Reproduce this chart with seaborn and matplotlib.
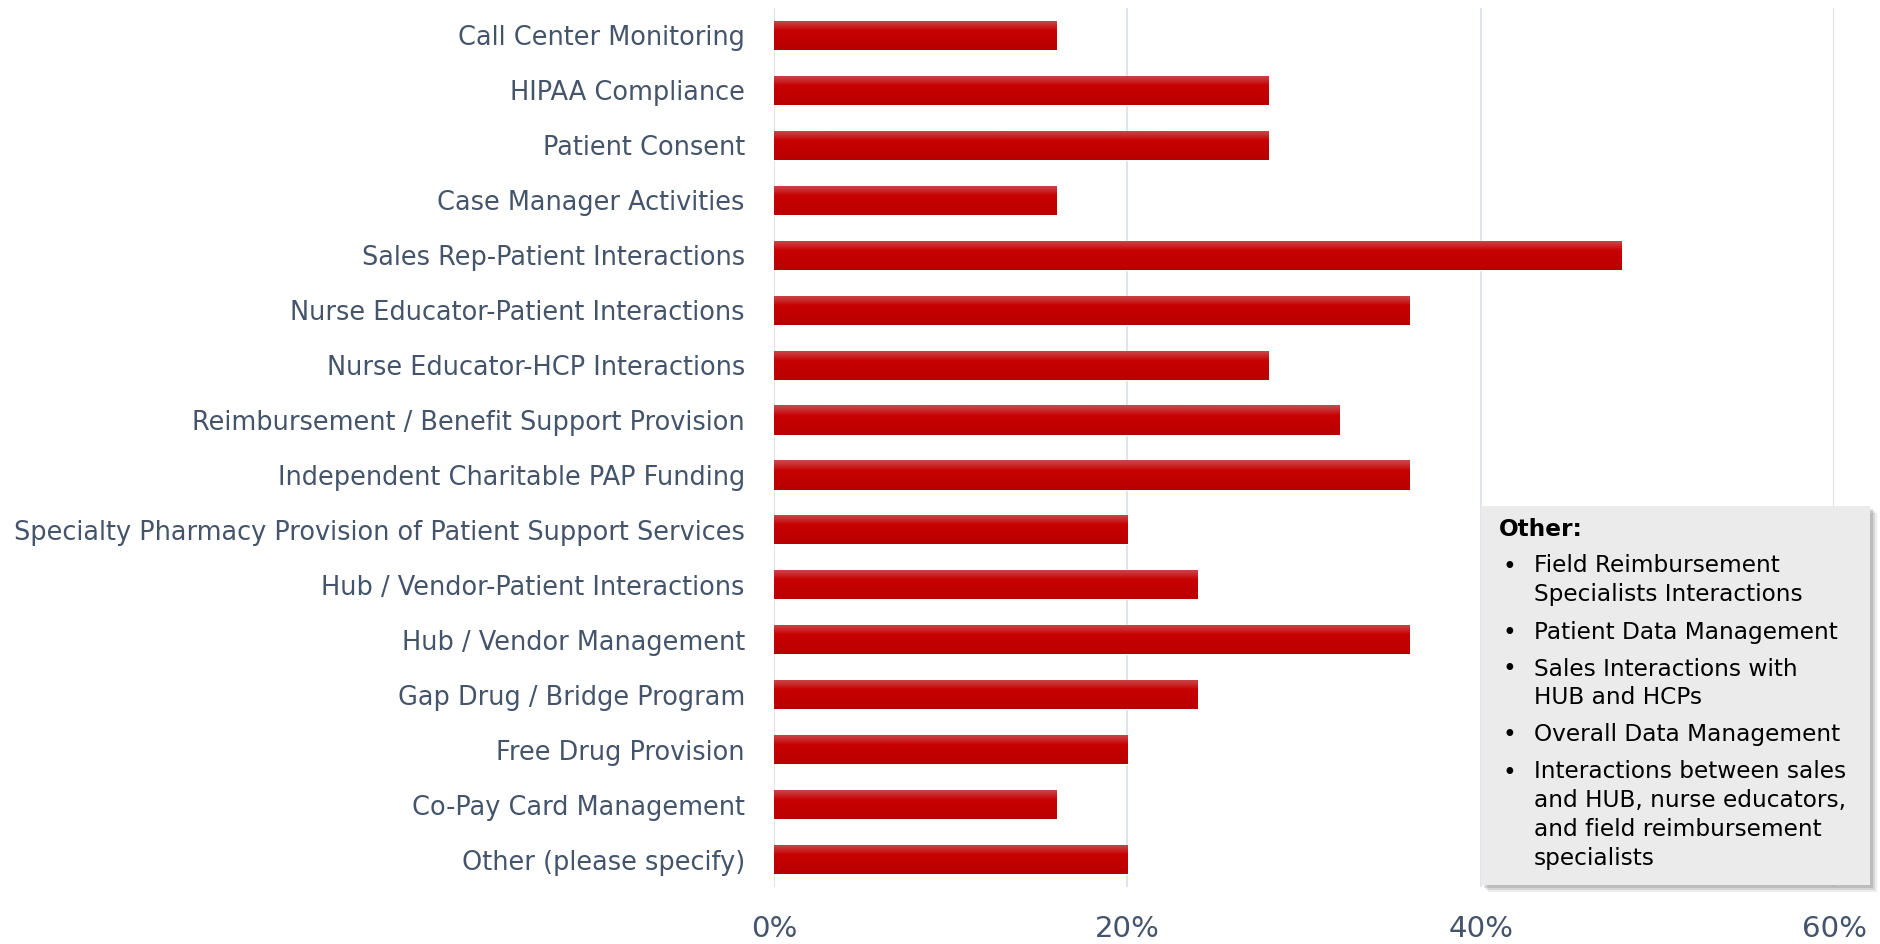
import matplotlib
matplotlib.use("Agg")
import matplotlib.pyplot as plt
import seaborn as sns
import numpy as np
import pandas as pd
from matplotlib import font_manager
from matplotlib.patches import Rectangle
from matplotlib.colors import LinearSegmentedColormap
from matplotlib.ticker import PercentFormatter

# ---------------- data ----------------
categories = [
    "Call Center Monitoring",
    "HIPAA Compliance",
    "Patient Consent",
    "Case Manager Activities",
    "Sales Rep-Patient Interactions",
    "Nurse Educator-Patient Interactions",
    "Nurse Educator-HCP Interactions",
    "Reimbursement / Benefit Support Provision",
    "Independent Charitable PAP Funding",
    "Specialty Pharmacy Provision of Patient Support Services",
    "Hub / Vendor-Patient Interactions",
    "Hub / Vendor Management",
    "Gap Drug / Bridge Program",
    "Free Drug Provision",
    "Co-Pay Card Management",
    "Other (please specify)",
]
values = [16, 28, 28, 16, 48, 36, 28, 32, 36, 20, 24, 36, 24, 20, 16, 20]
x_ticks = [0, 20, 40, 60]
box_title = "Other:"
box_items = [
    ["Field Reimbursement", "Specialists Interactions"],
    ["Patient Data Management"],
    ["Sales Interactions with", "HUB and HCPs"],
    ["Overall Data Management"],
    ["Interactions between sales", "and HUB, nurse educators,", "and field reimbursement", "specialists"],
]

# ---------------- style ----------------
sns.set_theme(style="white")
names = {f.name for f in font_manager.fontManager.ttflist}
family = "DejaVu Sans Condensed" if "DejaVu Sans Condensed" in names else "DejaVu Sans"
plt.rcParams["font.family"] = [family, "DejaVu Sans"]

TEXT = "#44546A"
W, H = 1880, 944
fig = plt.figure(figsize=(W / 100, H / 100), dpi=100)
renderer = fig.canvas.get_renderer()


def fit_size(s, target_px, weight="normal"):
    t = fig.text(0, 0, s, fontsize=20, fontweight=weight)
    w = t.get_window_extent(renderer=renderer).width
    t.remove()
    return 20 * target_px / w


ylab_size = fit_size("Specialty Pharmacy Provision of Patient Support Services", 733)
xlab_size = fit_size("20%", 65)
box_size = fit_size("Patient Data Management", 305)
title_size = fit_size("Other:", 84, "bold")

ax_left, ax_right, ax_top, ax_bottom = 774, 1834, 8, 887
ax = fig.add_axes([ax_left / W, 1 - ax_bottom / H, (ax_right - ax_left) / W, (ax_bottom - ax_top) / H])

df = pd.DataFrame({"category": categories, "value": values})
sns.barplot(data=df, x="value", y="category", orient="h", color="#C00000",
            saturation=1, width=0.53, ax=ax, zorder=3)

# gradient fill for bars
cmap = LinearSegmentedColormap.from_list(
    "bar", [(0.0, "#C9474C"), (0.12, "#C93437"), (0.35, "#C80000"), (1.0, "#B90000")])
grad = np.linspace(0, 1, 64).reshape(-1, 1)
for p in list(ax.patches):
    x0, y0, w, h = p.get_x(), p.get_y(), p.get_width(), p.get_height()
    im = ax.imshow(grad, extent=(x0, x0 + w, y0 + h, y0), origin="upper",
                   aspect="auto", cmap=cmap, zorder=4, interpolation="bilinear")
    im.set_clip_path(p)

ax.set_xlim(0, 60)
ax.set_ylim(len(categories) - 0.5, -0.5)
ax.set_aspect("auto")
ax.set_xticks(x_ticks)
ax.xaxis.set_major_formatter(PercentFormatter(decimals=0))
ax.grid(axis="x", color="#DDE2E8", linewidth=1.3, zorder=0)
ax.grid(axis="y", visible=False)
for s in ax.spines.values():
    s.set_visible(False)
ax.set_xlabel("")
ax.set_ylabel("")
ax.tick_params(axis="y", length=0, pad=21, labelsize=ylab_size, labelcolor=TEXT)
ax.tick_params(axis="x", length=0, pad=20, labelsize=xlab_size, labelcolor=TEXT)

# ---------------- annotation box ----------------
bx0, by0, bx1, by1 = 1481, 506, 1870, 885
for off, alpha in [(7, 0.10), (5, 0.15), (3, 0.2)]:
    fig.patches.append(Rectangle(((bx0 + off) / W, 1 - (by1 + off) / H), (bx1 - bx0) / W,
                                 (by1 - by0) / H, transform=fig.transFigure,
                                 facecolor="#555555", alpha=alpha, edgecolor="none", zorder=5))
fig.patches.append(Rectangle((bx0 / W, 1 - by1 / H), (bx1 - bx0) / W, (by1 - by0) / H,
                             transform=fig.transFigure, facecolor="#EBEBEB",
                             edgecolor="none", zorder=6))

fig.text(1499 / W, 1 - 529 / H, box_title, fontsize=title_size, fontweight="bold",
         color="black", va="center", ha="left", zorder=7)
y = 566
line_step, para_gap = 29, 8
for item in box_items:
    fig.text(1502 / W, 1 - y / H, "•", fontsize=box_size, color="black",
             va="center", ha="left", zorder=7)
    for line in item:
        fig.text(1534 / W, 1 - y / H, line, fontsize=box_size, color="black",
                 va="center", ha="left", zorder=7)
        y += line_step
    y += para_gap

fig.savefig("out.png", dpi=100)
